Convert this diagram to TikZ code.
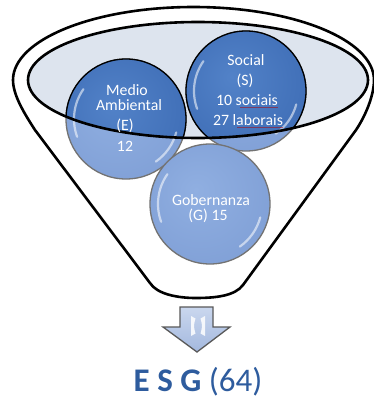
\documentclass[tikz,border=0pt]{standalone}
\usepackage{fontspec}
\setmainfont{Carlito}
\usetikzlibrary{calc}
\definecolor{rimfill}{HTML}{DDE4EE}
\definecolor{darkball}{HTML}{3462AC}
\definecolor{darkballin}{HTML}{5282C8}
\definecolor{lightball}{HTML}{7797D0}
\definecolor{lightballin}{HTML}{90AFE1}
\definecolor{esgblue}{HTML}{2E5C9E}
\definecolor{arrowtop}{HTML}{CAD7EE}
\definecolor{arrowbot}{HTML}{A3B8DE}
\pgfdeclareradialshading{darkbubbleshade}{\pgfpoint{-6bp}{6bp}}{color(0bp)=(darkballin); color(50bp)=(darkball); color(60bp)=(darkball)}
\pgfdeclareradialshading{lightbubbleshade}{\pgfpoint{-6bp}{6bp}}{color(0bp)=(lightballin); color(50bp)=(lightball); color(60bp)=(lightball)}
\tikzset{
  funnelline/.style={draw=black, line width=2.6pt, line join=round},
  lightbubble/.style={shading=lightbubbleshade, draw=black!55, line width=1.3pt},
  darkbubble/.style={shading=darkbubbleshade, draw=black, line width=1.3pt},
  shine/.style={draw=white, opacity=0.55, line width=2.2pt, line cap=round},
  balltext/.style={text=white, font=\fontsize{15.8}{17}\selectfont, anchor=base, inner sep=0pt},
  blockarrow/.style={top color=arrowtop, bottom color=arrowbot, draw=black!65, line width=1.3pt, line join=miter},
  gleam/.style={fill=white, opacity=0.85},
  squiggle/.style={draw=red!70!black, opacity=0.5, line width=0.5pt},
}
\begin{document}
\begin{tikzpicture}[x=1pt,y=-1pt]
\useasboundingbox (0,0) rectangle (374,399);
\fill[white] (0,0) rectangle (374,399);
% funnel body
\path[funnelline, fill=white]
  (150,283) -- (35,130) .. controls (24,113) and (13,95) .. (13,80)
  arc[start angle=180, end angle=360, x radius=180.5, y radius=73]
  .. controls (374,95) and (366,115) .. (356,130)
  -- (243,285) .. controls (235,296) and (215,298) .. (196,298)
  .. controls (177,298) and (157,294) .. (150,283) -- cycle;
% rim surface
\fill[rimfill] (198,80) ellipse[x radius=170, y radius=58];
% centres
\coordinate (cE) at (126,119);
\coordinate (cS) at (246,91);
\coordinate (cG) at (210,204);
% light (outside rim) bubbles
\path[lightbubble] (cE) circle[radius=60];
\path[lightbubble] (cS) circle[radius=60];
\path[lightbubble] (cG) circle[radius=60];
% dark parts inside rim
\begin{scope}
  \clip (198,80) ellipse[x radius=170, y radius=58];
  \path[darkbubble] (cE) circle[radius=60];
  \path[darkbubble] (cS) circle[radius=60];
\end{scope}
% highlights
\foreach \c in {cE,cS,cG}{
  \draw[shine] ($(\c)+(160:52)$) arc[start angle=160, end angle=215, radius=52];
  \draw[shine] ($(\c)+(15:52)$) arc[start angle=15, end angle=55, radius=52];
}
% rim outline
\draw[funnelline] (198,80) ellipse[x radius=170, y radius=58];
% texts
\node[balltext] (e1) at (127,95) {Medio};
\node[balltext] (e2) at (129,110) {Ambiental};
\node[balltext] (e3) at (125,130) {(E)};
\node[balltext] (e4) at (125,151) {12};
\node[balltext] (s1) at (246,65) {Social};
\node[balltext] (s2) at (245,85) {(S)};
\node[balltext] (s3) at (247,105) {10 sociais};
\node[balltext] (s4) at (248,125) {27 laborais};
\node[balltext] (g1) at (211,205) {Gobernanza};
\node[balltext] (g2) at (208,220) {(G) 15};
\draw[squiggle] ([xshift=-38pt]s3.base east) ++(0,1.8) -- ++(38,0);
\draw[squiggle] ([xshift=-46pt]s4.base east) ++(0,1.8) -- ++(46,0);
% arrow
\path[blockarrow] (180,307) -- (213,307) -- (213,327) -- (230,327) -- (197,352)
  -- (163,327) -- (180,327) -- cycle;
\fill[gleam] (191,316) -- (195.5,318.5) .. controls (193.5,326) .. (195.5,333.5) -- (191,336) -- cycle;
\fill[gleam] (205,316) -- (200.5,318.5) .. controls (202.5,326) .. (200.5,333.5) -- (205,336) -- cycle;
% result
\node[text=esgblue, font=\fontsize{33}{36}\selectfont, anchor=base, inner sep=0pt] (esg) at (198,391) {\textbf{E S G} (64)};
\end{tikzpicture}
\end{document}
